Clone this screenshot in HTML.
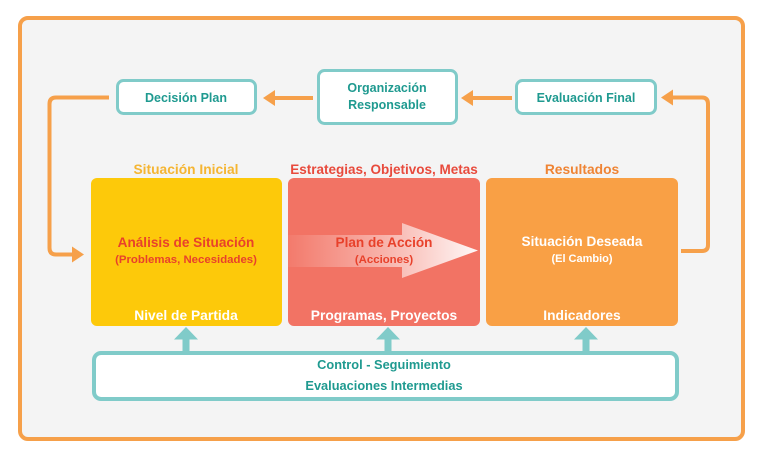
<!DOCTYPE html>
<html><head><meta charset="utf-8"><style>
html,body{margin:0;padding:0;background:#fff;}
svg{display:block;}
text{font-family:"Liberation Sans",sans-serif;font-weight:bold;}
</style></head><body>
<svg width="768" height="464" viewBox="0 0 768 464" xmlns="http://www.w3.org/2000/svg">
<defs>
<linearGradient id="ag" x1="0" y1="0" x2="1" y2="0">
<stop offset="0" stop-color="#ffffff" stop-opacity="0.05"/>
<stop offset="0.5" stop-color="#ffffff" stop-opacity="0.45"/>
<stop offset="1" stop-color="#ffffff" stop-opacity="0.95"/>
</linearGradient>
</defs>
<rect x="20" y="18" width="723" height="421" rx="8" fill="#f4f4f4" stroke="#f6a04a" stroke-width="4"/>

<g font-weight="bold" font-family="Liberation Sans, sans-serif">
<!-- top boxes -->
<rect x="117.5" y="80.5" width="138" height="33" rx="6" fill="#fff" stroke="#80cbc9" stroke-width="3"/>
<text x="186" y="102" font-size="12.5" fill="#1f9a90" text-anchor="middle">Decisión Plan</text>
<rect x="318.5" y="70.5" width="138" height="53" rx="6" fill="#fff" stroke="#80cbc9" stroke-width="3"/>
<text x="387" y="92" font-size="12.5" fill="#1f9a90" text-anchor="middle">Organización</text>
<text x="387" y="109" font-size="12.5" fill="#1f9a90" text-anchor="middle">Responsable</text>
<rect x="516.5" y="80.5" width="139" height="33" rx="6" fill="#fff" stroke="#80cbc9" stroke-width="3"/>
<text x="586" y="102" font-size="12.5" fill="#1f9a90" text-anchor="middle">Evaluación Final</text>

<!-- top arrows -->
<line x1="313" y1="98" x2="274" y2="98" stroke="#f6a04a" stroke-width="4"/>
<polygon points="263,98 275,90 275,106" fill="#f6a04a"/>
<line x1="512" y1="98" x2="472" y2="98" stroke="#f6a04a" stroke-width="4"/>
<polygon points="461,98 473,90 473,106" fill="#f6a04a"/>

<!-- left connector -->
<path d="M109,97.5 H56 Q49.5,97.5 49.5,104 V248 Q49.5,254.5 56,254.5 H74" fill="none" stroke="#f6a04a" stroke-width="4"/>
<polygon points="84,254.5 72,246.5 72,262.5" fill="#f6a04a"/>

<!-- right connector -->
<path d="M681,251 H702 Q708,251 708,245 V104 Q708,97.5 702,97.5 H671" fill="none" stroke="#f6a04a" stroke-width="4"/>
<polygon points="661,97.5 673,89.5 673,105.5" fill="#f6a04a"/>

<!-- headings -->
<text x="186" y="174" font-size="13.8" fill="#f5b532" text-anchor="middle" font-weight="bold">Situación Inicial</text>
<text x="384" y="174" font-size="13.5" fill="#e84a3c" text-anchor="middle" font-weight="bold">Estrategias, Objetivos, Metas</text>
<text x="582" y="174" font-size="13.8" fill="#ef8434" text-anchor="middle" font-weight="bold">Resultados</text>

<!-- big boxes -->
<rect x="91" y="178" width="191" height="148" rx="6" fill="#fdc90a"/>
<rect x="288" y="178" width="192" height="148" rx="6" fill="#f27364"/>
<rect x="486" y="178" width="192" height="148" rx="6" fill="#f9a045"/>

<!-- arrow in red box -->
<polygon points="288,235 402,235 402,223 478,250.5 402,278 402,267 288,267" fill="url(#ag)"/>

<text x="186" y="247" font-size="13.6" fill="#e8412b" text-anchor="middle">Análisis de Situación</text>
<text x="186" y="263" font-size="11.4" fill="#e8412b" text-anchor="middle">(Problemas, Necesidades)</text>
<text x="186" y="320" font-size="13.8" fill="#fff" text-anchor="middle">Nivel de Partida</text>

<text x="384" y="247" font-size="13.6" fill="#e8412b" text-anchor="middle">Plan de Acción</text>
<text x="384" y="263" font-size="11.4" fill="#e8412b" text-anchor="middle">(Acciones)</text>
<text x="384" y="320" font-size="13.8" fill="#fff" text-anchor="middle">Programas, Proyectos</text>

<text x="582" y="246" font-size="13.6" fill="#fff" text-anchor="middle">Situación Deseada</text>
<text x="582" y="262" font-size="11" fill="#fff" text-anchor="middle">(El Cambio)</text>
<text x="582" y="320" font-size="13.8" fill="#fff" text-anchor="middle">Indicadores</text>

<!-- up arrows -->
<g fill="#80cbc9">
<rect x="182.5" y="337" width="7" height="16"/>
<polygon points="186,327 198,339.5 174,339.5"/>
<rect x="384.5" y="337" width="7" height="16"/>
<polygon points="388,327 400,339.5 376,339.5"/>
<rect x="582.5" y="337" width="7" height="16"/>
<polygon points="586,327 598,339.5 574,339.5"/>
</g>

<!-- control box -->
<rect x="94" y="353" width="583" height="46" rx="7" fill="#fff" stroke="#80cbc9" stroke-width="4"/>
<text x="384" y="369" font-size="12.8" fill="#1f9a90" text-anchor="middle">Control - Seguimiento</text>
<text x="384" y="390" font-size="12.8" fill="#1f9a90" text-anchor="middle">Evaluaciones Intermedias</text>
</g>
</svg>
</body></html>
